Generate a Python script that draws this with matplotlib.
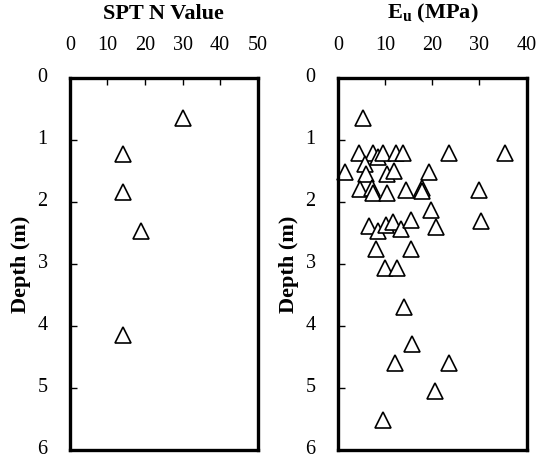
import matplotlib
matplotlib.use("Agg")
import matplotlib.pyplot as plt
import matplotlib.transforms as mtransforms

# SPT N value profile
spt_n = [30, 14, 14, 19, 14]
spt_depth = [0.64, 1.23, 1.83, 2.46, 4.15]

# undrained modulus Eu (MPa) profile
eu = [5.3, 4.4, 7.4, 8.5, 9.5, 12.4, 13.8, 23.6, 35.4,
      5.7, 1.6, 6.0, 10.5, 11.9, 19.2,
      4.6, 7.2, 7.4, 10.5, 14.5, 17.8, 17.8, 29.8,
      19.7, 30.3,
      6.7, 8.4, 10.2, 11.6, 13.3, 15.4, 20.8,
      8.1, 15.4, 10.0, 12.6,
      14.1, 15.8, 12.2, 23.6, 20.5, 9.5]
eu_depth = [0.64, 1.2, 1.21, 1.27, 1.21, 1.2, 1.2, 1.2, 1.2,
            1.39, 1.51, 1.54, 1.54, 1.5, 1.51,
            1.78, 1.77, 1.86, 1.86, 1.81, 1.77, 1.82, 1.8,
            2.12, 2.3,
            2.39, 2.46, 2.37, 2.32, 2.44, 2.29, 2.40,
            2.75, 2.75, 3.07, 3.07,
            3.70, 4.29, 4.59, 4.59, 5.05, 5.52]

plt.rcParams['font.family'] = ['Liberation Serif', 'DejaVu Serif']
plt.rcParams['font.size'] = 14.5
plt.rcParams['mathtext.fontset'] = 'custom'
plt.rcParams['mathtext.rm'] = 'Liberation Serif'
plt.rcParams['mathtext.bf'] = 'Liberation Serif:bold'

fig = plt.figure(figsize=(5.38, 4.59), dpi=100)
ax1 = fig.add_axes([0.130, 0.0196, 0.349, 0.810])
ax2 = fig.add_axes([0.628, 0.0196, 0.351, 0.810])

panels = [
    (ax1, spt_n, spt_depth, 50, "SPT N Value"),
    (ax2, eu, eu_depth, 40, r"E$_\mathbf{u}$ (MPa)"),
]

# nudge depth labels up a bit so the bottom "6" is not cut off
lift = mtransforms.ScaledTranslation(0, 3 / 100, fig.dpi_scale_trans)

for ax, x, y, xmax, title in panels:
    ax.plot(x, y, linestyle='none', marker='^', markersize=11,
            markerfacecolor='white', markeredgecolor='black', markeredgewidth=1.2,
            clip_on=False)
    ax.set_xlim(0, xmax)
    ax.set_ylim(6, 0)
    ax.set_xticks(range(0, xmax + 1, 10))
    ax.set_yticks(range(0, 7))
    ax.xaxis.tick_top()
    ax.xaxis.set_label_position('top')
    ax.set_xlabel(title, fontweight='bold', fontsize=16, labelpad=12)
    ax.set_ylabel("Depth (m)", fontweight='bold', fontsize=16, labelpad=5)
    ax.tick_params(axis='x', direction='in', length=5, width=1, pad=17,
                   top=True, bottom=False)
    ax.tick_params(axis='y', direction='in', length=5, width=1, pad=16,
                   left=True, right=False)
    for lbl in ax.get_yticklabels():
        lbl.set_transform(lbl.get_transform() + lift)
    for s in ax.spines.values():
        s.set_linewidth(2.4)

fig.savefig("out.png", dpi=100)
